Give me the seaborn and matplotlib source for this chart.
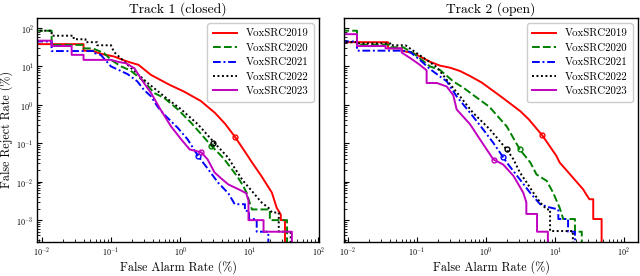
import numpy as np
import pandas as pd
import seaborn as sns
import matplotlib
matplotlib.use("Agg")
import matplotlib.pyplot as plt
from matplotlib.ticker import LogLocator, NullFormatter

plt.rcParams["font.family"] = "cmr10"
plt.rcParams["mathtext.fontset"] = "cm"
plt.rcParams["axes.formatter.use_mathtext"] = True

systems = ["VoxSRC2019", "VoxSRC2020", "VoxSRC2021", "VoxSRC2022", "VoxSRC2023"]
titles = ["Track 1 (closed)", "Track 2 (open)"]

# ---- Track 1 (closed): false alarm % / false reject %
t1_2019_fa = [0.008, 0.040, 0.040, 0.054, 0.063, 0.079, 0.11, 0.17, 0.25, 0.38, 0.71, 1.15, 2.0, 3.2, 4.5,
              6.2, 8.3, 11.0, 15.1, 21.4, 25.1, 28.8, 28.8, 33.1, 33.1]
t1_2019_fr = [38, 38, 25.7, 25.7, 22.9, 20.4, 18.2, 13.5, 11.0, 6.0, 3.3, 2.2, 1.26, 0.62, 0.32,
              0.15, 0.069, 0.032, 0.014, 0.0052, 0.0021, 0.0014, 0.001, 0.001, 0.0001]
t1_2020_fa = [0.008, 0.0138, 0.0138, 0.040, 0.040, 0.054, 0.079, 0.10, 0.14, 0.19, 0.30, 0.42, 0.59, 0.93,
              1.45, 2.04, 2.82, 4.2, 5.0, 6.9, 8.2, 9.2, 10.0, 11.0, 20.0, 20.0, 35.5, 35.5]
t1_2020_fr = [85, 85, 36.3, 36.3, 29.5, 29.5, 22.4, 14.8, 10.0, 7.9, 4.1, 2.04, 1.51, 0.76,
              0.34, 0.17, 0.087, 0.042, 0.028, 0.0129, 0.0078, 0.0052, 0.0032, 0.0019, 0.0019, 0.001, 0.001, 0.0001]
t1_2021_fa = [0.008, 0.0138, 0.0138, 0.059, 0.059, 0.071, 0.10, 0.174, 0.24, 0.30, 0.38, 0.47, 0.59, 0.93,
              1.29, 1.82, 2.51, 3.55, 5.0, 6.2, 8.7, 8.7, 10.0, 10.0, 12.9, 12.9, 19.0, 19.0]
t1_2021_fr = [44.7, 44.7, 25.1, 25.1, 21.9, 20, 10, 6.3, 4.1, 2.45, 1.66, 0.91, 0.56, 0.25,
              0.126, 0.047, 0.022, 0.0095, 0.005, 0.0026, 0.0026, 0.00174, 0.00174, 0.00107, 0.00107,
              0.0005, 0.0005, 0.0001]
t1_2022_fa = [0.008, 0.0138, 0.0138, 0.0288, 0.0288, 0.0427, 0.0427, 0.063, 0.063, 0.10, 0.11, 0.141, 0.19,
              0.34, 0.59, 1.04, 1.82, 3.16, 5.0, 5.9, 8.2, 11.5, 15.1, 19.1, 21.4, 26.9, 26.9, 40.0, 40.0]
t1_2022_fr = [85, 85, 63, 63, 51, 51, 42.7, 42.7, 35.5, 35.5, 24, 15.8, 9.5,
              3.7, 1.66, 0.76, 0.31, 0.102, 0.042, 0.0257, 0.0105, 0.0052, 0.0029, 0.0021, 0.00158, 0.00158,
              0.0005, 0.0005, 0.0001]
t1_2023_fa = [0.008, 0.0138, 0.0138, 0.0269, 0.0269, 0.040, 0.040, 0.10, 0.126, 0.166, 0.219, 0.24, 0.30,
              0.38, 0.52, 0.74, 1.04, 1.38, 2.04, 2.51, 3.16, 3.98, 5.0, 7.8, 9.1, 9.8, 9.8, 16.2, 16.2, 41.7, 41.7]
t1_2023_fr = [46.8, 46.8, 33.9, 33.9, 20, 20, 14.8, 14.8, 13.2, 12.0, 8.9, 6.8, 3.7,
              2.04, 0.76, 0.275, 0.126, 0.069, 0.058, 0.038, 0.0174, 0.012, 0.0085, 0.0058, 0.005, 0.0032,
              0.001, 0.001, 0.0005, 0.0005, 0.0001]

# ---- Track 2 (open)
t2_2019_fa = [0.008, 0.038, 0.038, 0.060, 0.060, 0.089, 0.110, 0.155, 0.215, 0.30, 0.42, 0.59, 0.87, 1.70,
              3.16, 4.17, 6.6, 10.5, 11.7, 16.6, 25.7, 28.8, 31.6, 35.9, 35.9, 47.5, 47.5]
t2_2019_fr = [42.7, 42.7, 29.5, 29.5, 25.7, 21.9, 18.2, 13.2, 10.5, 9.3, 7.6, 5.6, 3.8, 1.58,
              0.68, 0.42, 0.158, 0.047, 0.0316, 0.0155, 0.0063, 0.0045, 0.0035, 0.0035, 0.00107, 0.00107, 0.0001]
t2_2020_fa = [0.008, 0.0135, 0.0135, 0.041, 0.041, 0.063, 0.089, 0.110, 0.155, 0.215, 0.34, 0.47, 0.66,
              1.12, 2.0, 3.1, 4.4, 5.4, 7.6, 9.4, 11.7, 13.2, 19.5, 19.5, 24.5, 24.5]
t2_2020_fr = [85, 85, 37, 37, 31.6, 31.6, 21.9, 16.2, 10, 8.1, 4.0, 2.8, 1.78,
              0.89, 0.275, 0.069, 0.0316, 0.0155, 0.0105, 0.0052, 0.0021, 0.00107, 0.00107, 0.0005, 0.0005, 0.0001]
t2_2021_fa = [0.008, 0.0135, 0.0135, 0.063, 0.079, 0.110, 0.155, 0.215, 0.27, 0.376, 0.59, 0.91, 1.28,
              1.78, 2.0, 3.1, 4.35, 6.1, 7.9, 11.2, 11.2, 15.5, 15.5, 19.5, 19.5]
t2_2021_fr = [44.7, 44.7, 25.7, 25.7, 24, 14.8, 8.5, 5.5, 4.1, 1.66, 0.62, 0.23, 0.102,
              0.043, 0.0316, 0.0115, 0.0052, 0.0026, 0.0022, 0.0019, 0.00107, 0.00107, 0.0005, 0.0005, 0.0001]
t2_2022_fa = [0.008, 0.0135, 0.0135, 0.041, 0.041, 0.068, 0.10, 0.138, 0.195, 0.30, 0.42, 0.65,
              1.14, 2.0, 2.51, 3.1, 3.9, 4.85, 6.1, 7.6, 8.5, 8.5, 18.2, 18.2]
t2_2022_fr = [42.7, 42.7, 39.8, 39.8, 35.5, 35.5, 21.9, 14.8, 9.5, 3.5, 1.66, 0.62,
              0.23, 0.069, 0.038, 0.0174, 0.0095, 0.0052, 0.0029, 0.0019, 0.0019, 0.00052, 0.00052, 0.0001]
t2_2023_fa = [0.008, 0.0135, 0.0135, 0.035, 0.035, 0.060, 0.060, 0.081, 0.110, 0.138, 0.138, 0.195, 0.27,
              0.336, 0.376, 0.59, 0.82, 1.28, 1.78, 2.51, 3.47, 3.85, 3.85, 5.5, 5.5, 7.9, 7.9]
t2_2023_fr = [69, 69, 33.9, 33.9, 29.5, 29.5, 22.9, 16.2, 11.0, 7.9, 3.7, 3.7, 3.0,
              1.78, 0.76, 0.31, 0.126, 0.038, 0.028, 0.0141, 0.0052, 0.0029, 0.00145, 0.00145, 0.0005, 0.0005, 0.0001]

# operating points marked with small circles
t1_mark_fa = [6.2, 2.82, 1.82, 3.0, 2.0]
t1_mark_fr = [0.15, 0.087, 0.047, 0.10, 0.058]
t2_mark_fa = [6.6, 3.1, 1.78, 2.0, 1.3]
t2_mark_fr = [0.16, 0.069, 0.043, 0.069, 0.037]

palette = {"VoxSRC2019": "#ff0000", "VoxSRC2020": "#008000", "VoxSRC2021": "#0000ff",
           "VoxSRC2022": "#000000", "VoxSRC2023": "#c000c0"}
dash_map = {"VoxSRC2019": "", "VoxSRC2020": (4, 1.6), "VoxSRC2021": (4, 1.4, 1, 1.4),
            "VoxSRC2022": (1, 1.3), "VoxSRC2023": ""}

curves = {
    0: [(t1_2019_fa, t1_2019_fr), (t1_2020_fa, t1_2020_fr), (t1_2021_fa, t1_2021_fr),
        (t1_2022_fa, t1_2022_fr), (t1_2023_fa, t1_2023_fr)],
    1: [(t2_2019_fa, t2_2019_fr), (t2_2020_fa, t2_2020_fr), (t2_2021_fa, t2_2021_fr),
        (t2_2022_fa, t2_2022_fr), (t2_2023_fa, t2_2023_fr)],
}
marks = {0: (t1_mark_fa, t1_mark_fr), 1: (t2_mark_fa, t2_mark_fr)}

fig = plt.figure(figsize=(6.4, 2.76), dpi=100)
axes = [fig.add_axes([37 / 640, 34 / 276, 282 / 640, 224 / 276]),
        fig.add_axes([344 / 640, 34 / 276, 294 / 640, 224 / 276])]
xlims = [(0.00847, 103), (0.00875, 160)]

for i, ax in enumerate(axes):
    frames = []
    for name, (fa, fr) in zip(systems, curves[i]):
        frames.append(pd.DataFrame({"fa": fa, "fr": fr, "system": name}))
    df = pd.concat(frames, ignore_index=True)
    sns.lineplot(data=df, x="fa", y="fr", hue="system", style="system", palette=palette,
                 dashes=dash_map, sort=False, estimator=None, lw=1.4, ax=ax)
    mfa, mfr = marks[i]
    for name, x, y in zip(systems, mfa, mfr):
        ax.plot(x, y, "o", ms=3.5, mfc="none", mec=palette[name], mew=1.0)

    ax.set_xscale("log")
    ax.set_yscale("log")
    ax.set_xlim(*xlims[i])
    ax.set_ylim(2.7e-4, 182)
    ax.xaxis.set_major_locator(LogLocator(base=10, numticks=20))
    ax.yaxis.set_major_locator(LogLocator(base=10, numticks=20))
    ax.xaxis.set_minor_locator(LogLocator(base=10, subs=np.arange(2, 10), numticks=100))
    ax.yaxis.set_minor_locator(LogLocator(base=10, subs=np.arange(2, 10), numticks=100))
    ax.xaxis.set_minor_formatter(NullFormatter())
    ax.yaxis.set_minor_formatter(NullFormatter())
    ax.tick_params(which="both", direction="in", top=False, right=False, labelsize=5.8)
    ax.tick_params(which="major", length=3.5, width=0.8, pad=2.5)
    ax.tick_params(which="minor", length=2, width=0.6)
    for sp in ax.spines.values():
        sp.set_linewidth(1.0)
    ax.set_title(titles[i], fontsize=9.8, pad=4)
    ax.set_xlabel("False Alarm Rate (%)", fontsize=8.7, labelpad=1)
    if i == 0:
        ax.set_ylabel("False Reject Rate (%)", fontsize=8.7, labelpad=2)
    else:
        ax.set_ylabel("")
        ax.tick_params(axis="y", labelleft=False)
    ax.legend(loc="upper right", fontsize=7.8, labelspacing=0.45, handlelength=2.2,
              borderpad=0.5, framealpha=1.0)

fig.savefig("out.png", dpi=100)
